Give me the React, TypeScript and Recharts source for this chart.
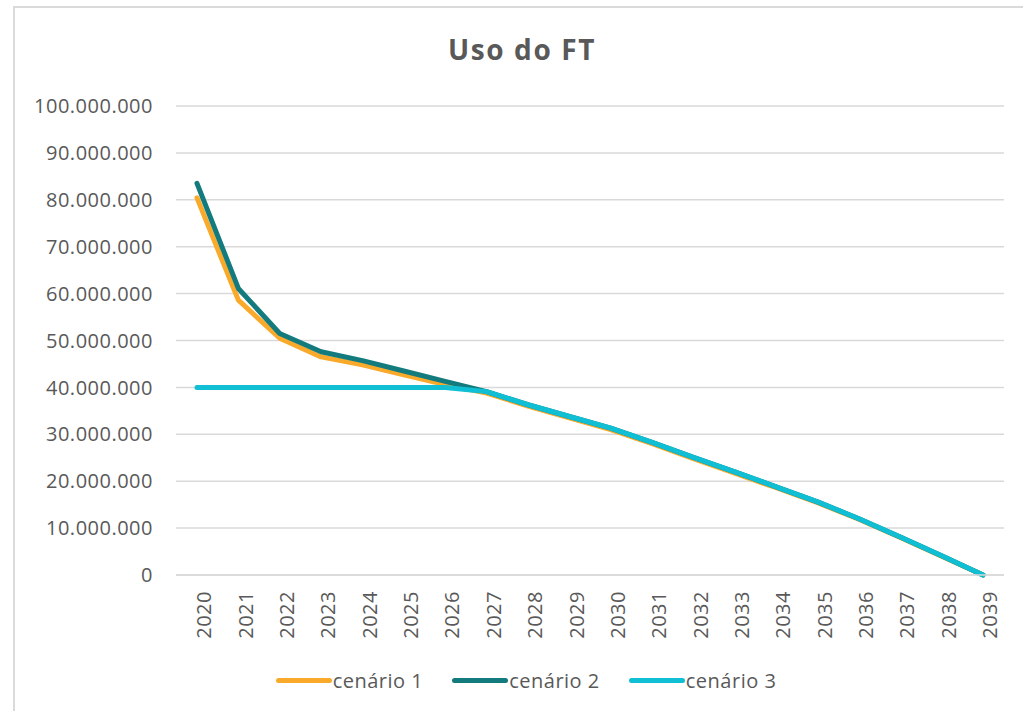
import { LineChart, Line, XAxis, YAxis, CartesianGrid, Legend } from 'recharts';

const years = [
  '2020', '2021', '2022', '2023', '2024', '2025', '2026', '2027', '2028', '2029',
  '2030', '2031', '2032', '2033', '2034', '2035', '2036', '2037', '2038', '2039',
];

// values in reais
const cenario1 = [
  80400000, 58600000, 50500000, 46500000, 44800000, 42700000, 40600000, 38800000, 36000000, 33500000,
  31000000, 28000000, 24800000, 21700000, 18600000, 15400000, 11900000, 8000000, 4000000, 0,
];
const cenario2 = [
  83500000, 61100000, 51500000, 47600000, 45700000, 43500000, 41300000, 39100000, 36300000, 33800000,
  31300000, 28300000, 25100000, 22000000, 18800000, 15600000, 12000000, 8100000, 4100000, 0,
];
const cenario3 = [
  40000000, 40000000, 40000000, 40000000, 40000000, 40000000, 40000000, 39100000, 36300000, 33800000,
  31300000, 28300000, 25100000, 22000000, 18800000, 15600000, 12000000, 8100000, 4100000, 0,
];

const yTicks = [0, 10000000, 20000000, 30000000, 40000000, 50000000, 60000000, 70000000, 80000000, 90000000, 100000000];

const SERIES = [
  { key: 'c1', label: 'cenário 1', color: '#FAAA2A' },
  { key: 'c2', label: 'cenário 2', color: '#137B7E' },
  { key: 'c3', label: 'cenário 3', color: '#10BFD3' },
];

const TEXT = '#595959';
const FONT = '"Open Sans", sans-serif';

const data = years.map((y, i) => ({ year: y, c1: cenario1[i], c2: cenario2[i], c3: cenario3[i] }));

const fmt = (v: number) => String(v).replace(/\B(?=(\d{3})+(?!\d))/g, '.');

function LegendContent() {
  return (
    <div style={{ display: 'flex', justifyContent: 'center', alignItems: 'center', gap: 29, height: 30, fontFamily: FONT }}>
      {SERIES.map((s) => (
        <div key={s.key} style={{ display: 'flex', alignItems: 'center' }}>
          <span style={{ display: 'inline-block', width: 56, height: 5, borderRadius: 3, background: s.color }} />
          <span style={{ marginLeft: 1, fontSize: 20, letterSpacing: 0.5, color: TEXT }}>{s.label}</span>
        </div>
      ))}
    </div>
  );
}

export default function App() {
  return (
    <div
      style={{
        position: 'absolute',
        left: 13,
        top: 6,
        width: 1010,
        height: 705,
        boxSizing: 'border-box',
        borderLeft: '2px solid #dadada',
        borderTop: '2px solid #dadada',
        background: '#fff',
      }}
    >
      <div
        style={{
          position: 'absolute',
          left: 357,
          top: 27,
          width: 300,
          textAlign: 'center',
          fontFamily: FONT,
          fontWeight: 700,
          fontSize: 28,
          lineHeight: '28px',
          letterSpacing: 1.6,
          color: TEXT,
        }}
      >
        Uso do FT
      </div>
      <LineChart width={1008} height={700} data={data} margin={{ top: 98, right: 19, left: 0, bottom: 13 }}>
        <CartesianGrid vertical={false} stroke="#d9d9d9" strokeWidth={1.5} />
        <XAxis
          dataKey="year"
          interval={0}
          height={90}
          padding={{ left: 21, right: 21 }}
          tickLine={false}
          tickSize={0}
          tickMargin={16}
          axisLine={{ stroke: '#d9d9d9', strokeWidth: 1.5 }}
          tick={{ angle: -90, textAnchor: 'end', verticalAnchor: 'middle', fill: TEXT, fontSize: 20, fontFamily: FONT, letterSpacing: 0.5 } as never}
        />
        <YAxis
          width={161}
          domain={[0, 100000000]}
          ticks={yTicks}
          tickFormatter={fmt}
          axisLine={false}
          tickLine={false}
          tickSize={0}
          tickMargin={23}
          tick={{ fill: TEXT, fontSize: 20, fontFamily: FONT, letterSpacing: 0.5 }}
        />
        <Legend
          verticalAlign="bottom"
          content={<LegendContent />}
          wrapperStyle={{ left: 14, width: 994 }}
        />
        {SERIES.map((s) => (
          <Line
            key={s.key}
            type="linear"
            dataKey={s.key}
            name={s.label}
            stroke={s.color}
            strokeWidth={5}
            strokeLinecap="round"
            strokeLinejoin="round"
            dot={false}
            activeDot={false}
            isAnimationActive={false}
          />
        ))}
      </LineChart>
    </div>
  );
}
